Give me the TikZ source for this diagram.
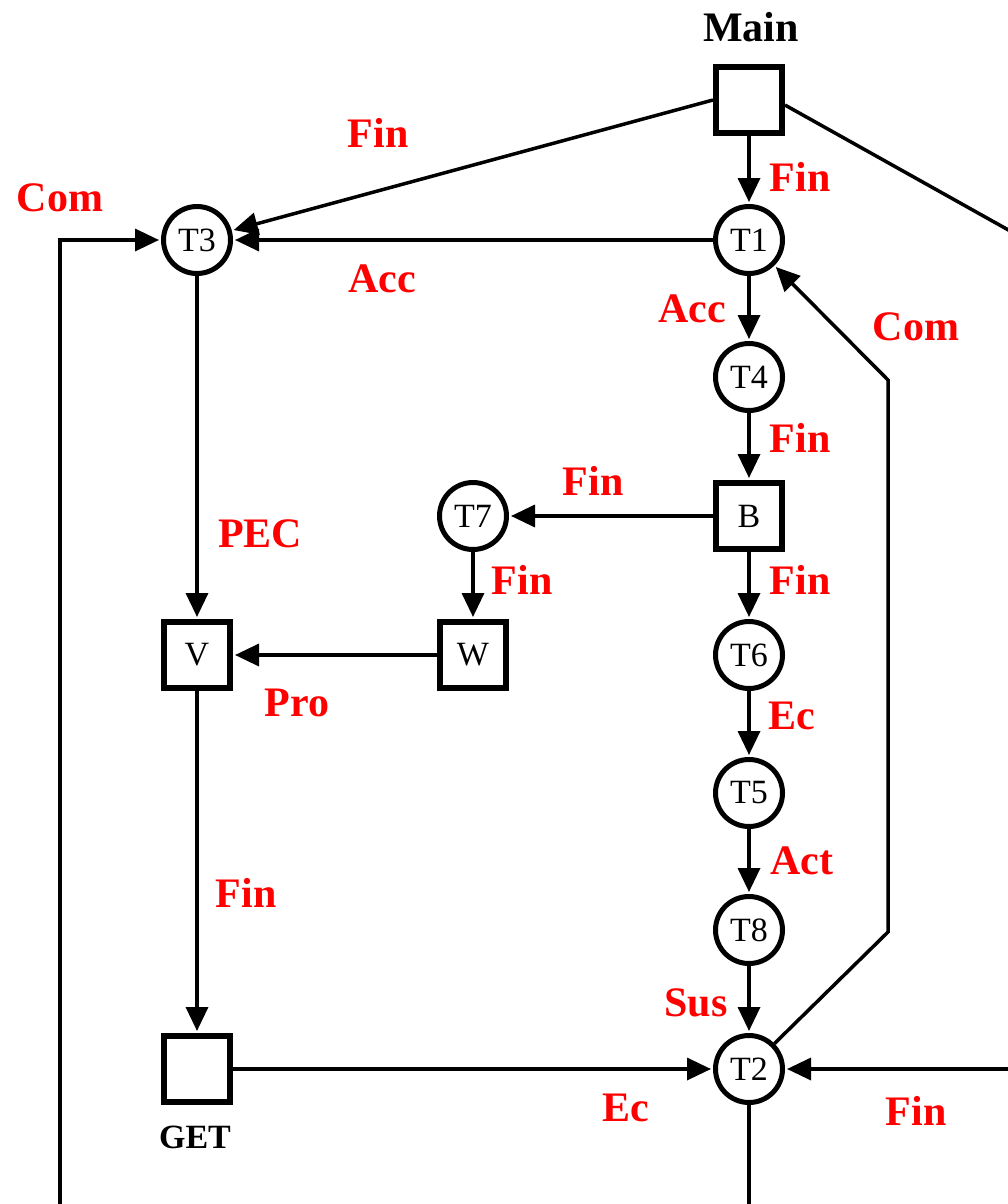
\documentclass[tikz,border=0pt]{standalone}
\usepackage{fontspec}
\setmainfont{Liberation Serif}
\usetikzlibrary{arrows.meta}
\begin{document}
\begin{tikzpicture}[x=1pt,y=-1pt,
  box/.style={draw,line width=6pt,minimum size=66pt,inner sep=0pt,font=\fontsize{34}{36}\selectfont},
  state/.style={draw,circle,line width=5pt,minimum size=67pt,inner sep=0pt,font=\fontsize{34}{36}\selectfont},
  lab/.style={text=red,font=\fontsize{42}{48}\selectfont\bfseries,inner sep=0pt},
  blab/.style={font=\fontsize{42}{48}\selectfont\bfseries,inner sep=0pt},
  conn/.style={line width=3.5pt,shorten >=2pt,-{Triangle[length=24pt,width=22pt]}},
  line/.style={line width=3.5pt}]
\useasboundingbox (0,0) rectangle (1008,1204);
% nodes
\node[box] (Main) at (749,100) {};
\node[blab] (mainl) at (751,27) {Main};
\node[state] (T1) at (749,240) {T1};
\node[state] (T3) at (197,240) {T3};
\node[state] (T4) at (749,377) {T4};
\node[box] (B) at (749,516) {B};
\node[state] (T7) at (473,516) {T7};
\node[box] (W) at (473,655) {W};
\node[box] (V) at (197,655) {V};
\node[state] (T6) at (749,655) {T6};
\node[state] (T5) at (749,793) {T5};
\node[state] (T8) at (749,930) {T8};
\node[state] (T2) at (749,1069) {T2};
\node[box] (GET) at (197,1069) {};
\node[font=\fontsize{34}{36}\selectfont\bfseries,inner sep=0pt] (getl) at (195,1137) {GET};
% free ends
\coordinate (outR1) at (1012,232);
\coordinate (outR2) at (1012,1069);
\coordinate (outB) at (749,1210);
\coordinate (outL) at (60,1210);
\coordinate (cL) at (60,240);
\coordinate (cR1) at (888,932);
\coordinate (cR2) at (888,380);
% connectors
\draw[conn] (Main.west) -- (T3);
\draw[conn] (Main) -- (T1);
\draw[line] (Main.-8) -- (outR1);
\draw[conn] (T1) -- (T3);
\draw[conn] (T1) -- (T4);
\draw[conn] (T4) -- (B);
\draw[conn] (B) -- (T7);
\draw[conn] (B) -- (T6);
\draw[conn] (T7) -- (W);
\draw[conn] (W) -- (V);
\draw[conn] (T3) -- (V);
\draw[conn] (V) -- (GET);
\draw[conn] (GET) -- (T2);
\draw[conn] (T6) -- (T5);
\draw[conn] (T5) -- (T8);
\draw[conn] (T8) -- (T2);
\draw[conn] (T2.45) -- (cR1) -- (cR2) -- (T1);
\draw[conn] (outR2) -- (T2);
\draw[line] (T2) -- (outB);
\draw[conn] (outL) -- (cL) -- (T3);
% labels
\node[lab] (l1) at (378,133) {Fin};
\node[lab] (l2) at (60,198) {Com};
\node[lab] (l3) at (800,177) {Fin};
\node[lab] (l4) at (382,279) {Acc};
\node[lab] (l5) at (692,309) {Acc};
\node[lab] (l6) at (916,327) {Com};
\node[lab] (l7) at (800,438) {Fin};
\node[lab] (l8) at (593,481) {Fin};
\node[lab] (l9) at (260,534) {PEC};
\node[lab] (l10) at (522,580) {Fin};
\node[lab] (l11) at (800,580) {Fin};
\node[lab] (l12) at (297,703) {Pro};
\node[lab] (l13) at (792,716) {Ec};
\node[lab] (l14) at (802,861) {Act};
\node[lab] (l15) at (246,893) {Fin};
\node[lab] (l16) at (696,1003) {Sus};
\node[lab] (l17) at (626,1108) {Ec};
\node[lab] (l18) at (916,1111) {Fin};
\end{tikzpicture}
\end{document}
